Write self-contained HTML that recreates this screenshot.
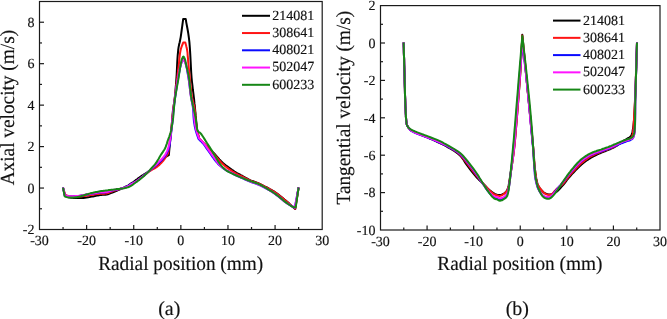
<!DOCTYPE html>
<html><head><meta charset="utf-8"><style>
html,body{margin:0;padding:0;background:#fff;}
svg{display:block;font-family:"Liberation Serif", serif;will-change:transform;text-rendering:geometricPrecision;}
text{fill:#111;stroke:#111;stroke-width:0.15px;}
</style></head><body>
<svg width="667" height="319" viewBox="0 0 667 319">
<rect x="39.5" y="1.5" width="282.7" height="228.0" fill="none" stroke="#1a1a1a" stroke-width="1.2"/>
<text x="39.50" y="245.30" font-size="14" text-anchor="middle" >-30</text>
<line x1="63.06" y1="229.50" x2="63.06" y2="227.00" stroke="#1a1a1a" stroke-width="1.2"/>
<line x1="86.62" y1="229.50" x2="86.62" y2="225.00" stroke="#1a1a1a" stroke-width="1.2"/>
<text x="86.62" y="245.30" font-size="14" text-anchor="middle" >-20</text>
<line x1="110.17" y1="229.50" x2="110.17" y2="227.00" stroke="#1a1a1a" stroke-width="1.2"/>
<line x1="133.73" y1="229.50" x2="133.73" y2="225.00" stroke="#1a1a1a" stroke-width="1.2"/>
<text x="133.73" y="245.30" font-size="14" text-anchor="middle" >-10</text>
<line x1="157.29" y1="229.50" x2="157.29" y2="227.00" stroke="#1a1a1a" stroke-width="1.2"/>
<line x1="180.85" y1="229.50" x2="180.85" y2="225.00" stroke="#1a1a1a" stroke-width="1.2"/>
<text x="180.85" y="245.30" font-size="14" text-anchor="middle" >0</text>
<line x1="204.41" y1="229.50" x2="204.41" y2="227.00" stroke="#1a1a1a" stroke-width="1.2"/>
<line x1="227.97" y1="229.50" x2="227.97" y2="225.00" stroke="#1a1a1a" stroke-width="1.2"/>
<text x="227.97" y="245.30" font-size="14" text-anchor="middle" >10</text>
<line x1="251.53" y1="229.50" x2="251.53" y2="227.00" stroke="#1a1a1a" stroke-width="1.2"/>
<line x1="275.08" y1="229.50" x2="275.08" y2="225.00" stroke="#1a1a1a" stroke-width="1.2"/>
<text x="275.08" y="245.30" font-size="14" text-anchor="middle" >20</text>
<line x1="298.64" y1="229.50" x2="298.64" y2="227.00" stroke="#1a1a1a" stroke-width="1.2"/>
<text x="322.20" y="245.30" font-size="14" text-anchor="middle" >30</text>
<text x="34.50" y="234.20" font-size="14" text-anchor="end" >-2</text>
<line x1="39.50" y1="208.77" x2="42.00" y2="208.77" stroke="#1a1a1a" stroke-width="1.2"/>
<line x1="39.50" y1="188.05" x2="44.00" y2="188.05" stroke="#1a1a1a" stroke-width="1.2"/>
<text x="34.50" y="192.75" font-size="14" text-anchor="end" >0</text>
<line x1="39.50" y1="167.32" x2="42.00" y2="167.32" stroke="#1a1a1a" stroke-width="1.2"/>
<line x1="39.50" y1="146.59" x2="44.00" y2="146.59" stroke="#1a1a1a" stroke-width="1.2"/>
<text x="34.50" y="151.29" font-size="14" text-anchor="end" >2</text>
<line x1="39.50" y1="125.86" x2="42.00" y2="125.86" stroke="#1a1a1a" stroke-width="1.2"/>
<line x1="39.50" y1="105.14" x2="44.00" y2="105.14" stroke="#1a1a1a" stroke-width="1.2"/>
<text x="34.50" y="109.84" font-size="14" text-anchor="end" >4</text>
<line x1="39.50" y1="84.41" x2="42.00" y2="84.41" stroke="#1a1a1a" stroke-width="1.2"/>
<line x1="39.50" y1="63.68" x2="44.00" y2="63.68" stroke="#1a1a1a" stroke-width="1.2"/>
<text x="34.50" y="68.38" font-size="14" text-anchor="end" >6</text>
<line x1="39.50" y1="42.95" x2="42.00" y2="42.95" stroke="#1a1a1a" stroke-width="1.2"/>
<line x1="39.50" y1="22.23" x2="44.00" y2="22.23" stroke="#1a1a1a" stroke-width="1.2"/>
<text x="34.50" y="26.93" font-size="14" text-anchor="end" >8</text>
<rect x="380.5" y="5.6" width="279.5" height="224.4" fill="none" stroke="#1a1a1a" stroke-width="1.2"/>
<text x="380.50" y="245.80" font-size="14" text-anchor="middle" >-30</text>
<line x1="403.79" y1="230.00" x2="403.79" y2="227.50" stroke="#1a1a1a" stroke-width="1.2"/>
<line x1="427.08" y1="230.00" x2="427.08" y2="225.50" stroke="#1a1a1a" stroke-width="1.2"/>
<text x="427.08" y="245.80" font-size="14" text-anchor="middle" >-20</text>
<line x1="450.38" y1="230.00" x2="450.38" y2="227.50" stroke="#1a1a1a" stroke-width="1.2"/>
<line x1="473.67" y1="230.00" x2="473.67" y2="225.50" stroke="#1a1a1a" stroke-width="1.2"/>
<text x="473.67" y="245.80" font-size="14" text-anchor="middle" >-10</text>
<line x1="496.96" y1="230.00" x2="496.96" y2="227.50" stroke="#1a1a1a" stroke-width="1.2"/>
<line x1="520.25" y1="230.00" x2="520.25" y2="225.50" stroke="#1a1a1a" stroke-width="1.2"/>
<text x="520.25" y="245.80" font-size="14" text-anchor="middle" >0</text>
<line x1="543.54" y1="230.00" x2="543.54" y2="227.50" stroke="#1a1a1a" stroke-width="1.2"/>
<line x1="566.83" y1="230.00" x2="566.83" y2="225.50" stroke="#1a1a1a" stroke-width="1.2"/>
<text x="566.83" y="245.80" font-size="14" text-anchor="middle" >10</text>
<line x1="590.12" y1="230.00" x2="590.12" y2="227.50" stroke="#1a1a1a" stroke-width="1.2"/>
<line x1="613.42" y1="230.00" x2="613.42" y2="225.50" stroke="#1a1a1a" stroke-width="1.2"/>
<text x="613.42" y="245.80" font-size="14" text-anchor="middle" >20</text>
<line x1="636.71" y1="230.00" x2="636.71" y2="227.50" stroke="#1a1a1a" stroke-width="1.2"/>
<text x="660.00" y="245.80" font-size="14" text-anchor="middle" >30</text>
<text x="375.50" y="234.70" font-size="14" text-anchor="end" >-10</text>
<line x1="380.50" y1="211.30" x2="383.00" y2="211.30" stroke="#1a1a1a" stroke-width="1.2"/>
<line x1="380.50" y1="192.60" x2="385.00" y2="192.60" stroke="#1a1a1a" stroke-width="1.2"/>
<text x="375.50" y="197.30" font-size="14" text-anchor="end" >-8</text>
<line x1="380.50" y1="173.90" x2="383.00" y2="173.90" stroke="#1a1a1a" stroke-width="1.2"/>
<line x1="380.50" y1="155.20" x2="385.00" y2="155.20" stroke="#1a1a1a" stroke-width="1.2"/>
<text x="375.50" y="159.90" font-size="14" text-anchor="end" >-6</text>
<line x1="380.50" y1="136.50" x2="383.00" y2="136.50" stroke="#1a1a1a" stroke-width="1.2"/>
<line x1="380.50" y1="117.80" x2="385.00" y2="117.80" stroke="#1a1a1a" stroke-width="1.2"/>
<text x="375.50" y="122.50" font-size="14" text-anchor="end" >-4</text>
<line x1="380.50" y1="99.10" x2="383.00" y2="99.10" stroke="#1a1a1a" stroke-width="1.2"/>
<line x1="380.50" y1="80.40" x2="385.00" y2="80.40" stroke="#1a1a1a" stroke-width="1.2"/>
<text x="375.50" y="85.10" font-size="14" text-anchor="end" >-2</text>
<line x1="380.50" y1="61.70" x2="383.00" y2="61.70" stroke="#1a1a1a" stroke-width="1.2"/>
<line x1="380.50" y1="43.00" x2="385.00" y2="43.00" stroke="#1a1a1a" stroke-width="1.2"/>
<text x="375.50" y="47.70" font-size="14" text-anchor="end" >0</text>
<line x1="380.50" y1="24.30" x2="383.00" y2="24.30" stroke="#1a1a1a" stroke-width="1.2"/>
<text x="375.50" y="10.30" font-size="14" text-anchor="end" >2</text>
<text transform="translate(180.7,269.5) scale(0.965,1)" font-size="20" text-anchor="middle">Radial position (mm)</text>
<text transform="translate(519.9,269.5) scale(0.965,1)" font-size="20" text-anchor="middle">Radial position (mm)</text>
<text transform="translate(13.7,107.65) rotate(-90) scale(0.965,1)" font-size="20" text-anchor="middle">Axial velocity (m/s)</text>
<text transform="translate(349.6,107.7) rotate(-90) scale(0.965,1)" font-size="20" text-anchor="middle">Tangential velocity (m/s)</text>
<text x="169.30" y="314.50" font-size="20" text-anchor="middle" >(a)</text>
<text x="517.30" y="314.50" font-size="20" text-anchor="middle" >(b)</text>
<line x1="242.00" y1="15.80" x2="270.00" y2="15.80" stroke="#000000" stroke-width="2"/>
<text x="272.30" y="19.70" font-size="14" text-anchor="start" >214081</text>
<line x1="242.00" y1="33.05" x2="270.00" y2="33.05" stroke="#ff1414" stroke-width="2"/>
<text x="272.30" y="36.95" font-size="14" text-anchor="start" >308641</text>
<line x1="242.00" y1="50.30" x2="270.00" y2="50.30" stroke="#0a0aff" stroke-width="2"/>
<text x="272.30" y="54.20" font-size="14" text-anchor="start" >408021</text>
<line x1="242.00" y1="67.55" x2="270.00" y2="67.55" stroke="#ff14ff" stroke-width="2"/>
<text x="272.30" y="71.45" font-size="14" text-anchor="start" >502047</text>
<line x1="242.00" y1="84.80" x2="270.00" y2="84.80" stroke="#168716" stroke-width="2"/>
<text x="272.30" y="88.70" font-size="14" text-anchor="start" >600233</text>
<path d="M63.0,187.6 L64.9,196.0 L65.9,196.3 L66.9,196.6 L67.9,197.0 L68.9,197.3 L70.0,197.5 L71.2,197.7 L72.4,197.8 L73.6,197.9 L74.8,198.0 L76.0,198.0 L77.2,198.0 L78.4,198.1 L79.6,198.1 L80.8,198.1 L82.0,198.0 L83.5,197.9 L85.0,197.7 L86.5,197.5 L88.1,197.2 L89.5,197.0 L90.7,196.8 L91.8,196.6 L92.9,196.4 L93.9,196.2 L95.0,196.0 L96.0,195.8 L97.0,195.6 L98.0,195.4 L99.0,195.2 L100.0,195.0 L101.3,194.9 L102.6,194.8 L104.0,194.8 L105.4,194.7 L106.7,194.5 L107.9,194.2 L109.1,193.8 L110.2,193.4 L111.4,192.9 L112.5,192.5 L113.6,192.1 L114.8,191.6 L115.9,191.1 L117.0,190.7 L118.0,190.2 L118.8,189.8 L119.6,189.5 L120.4,189.1 L121.2,188.7 L122.0,188.3 L123.1,187.8 L124.3,187.3 L125.5,186.7 L126.8,186.2 L128.0,185.5 L129.4,184.6 L130.8,183.7 L132.3,182.7 L133.7,181.7 L135.0,180.7 L136.1,179.9 L137.1,179.2 L138.0,178.4 L139.0,177.7 L140.0,177.0 L141.0,176.3 L142.0,175.7 L143.0,175.1 L144.0,174.4 L145.0,173.8 L146.0,173.2 L147.0,172.5 L147.9,171.9 L148.9,171.2 L150.0,170.5 L151.4,169.5 L153.0,168.4 L154.6,167.3 L156.1,166.1 L157.6,164.9 L159.0,163.5 L160.3,162.0 L161.6,160.5 L162.9,159.1 L164.2,157.9 L165.1,157.2 L166.1,156.6 L167.0,156.1 L167.9,155.6 L168.8,155.1 L169.1,152.1 L169.4,149.0 L169.7,146.0 L170.0,143.0 L170.3,140.0 L170.6,137.2 L170.8,134.4 L171.1,131.6 L171.3,128.9 L171.6,126.0 L171.9,122.8 L172.1,119.5 L172.4,116.2 L172.7,113.0 L173.0,110.0 L173.3,107.9 L173.6,106.0 L173.9,104.1 L174.2,102.2 L174.5,100.0 L174.9,96.5 L175.3,92.7 L175.6,88.6 L176.0,84.4 L176.3,80.0 L176.7,74.2 L177.0,67.8 L177.3,61.4 L177.7,55.3 L178.2,50.0 L178.6,47.1 L179.1,44.6 L179.7,42.2 L180.2,39.7 L180.7,37.1 L181.2,33.7 L181.7,30.0 L182.2,26.3 L182.7,22.6 L183.2,18.9 L185.7,18.9 L186.3,22.6 L187.0,26.3 L187.7,30.0 L188.3,33.7 L188.8,37.1 L189.1,39.7 L189.4,42.2 L189.6,44.6 L189.8,47.1 L190.0,50.0 L190.3,55.0 L190.6,60.7 L190.9,66.7 L191.2,72.6 L191.6,78.0 L192.0,82.1 L192.5,86.1 L192.9,90.0 L193.4,93.6 L193.8,97.0 L194.1,99.4 L194.3,101.6 L194.5,103.7 L194.8,105.8 L195.0,108.0 L195.2,110.6 L195.5,113.2 L195.7,115.9 L196.0,118.5 L196.2,121.0 L196.4,122.9 L196.6,124.7 L196.7,126.5 L196.9,128.2 L197.2,130.0 L197.5,131.8 L197.9,133.6 L198.4,135.3 L198.8,137.1 L199.2,138.9 L200.4,140.0 L201.5,141.2 L202.7,142.3 L203.9,143.4 L205.0,144.5 L206.0,145.4 L207.1,146.3 L208.1,147.2 L209.1,148.1 L210.0,149.0 L210.8,149.8 L211.6,150.7 L212.4,151.5 L213.1,152.4 L214.0,153.3 L215.3,154.7 L216.6,156.3 L218.1,157.9 L219.4,159.4 L220.7,160.8 L221.6,161.7 L222.4,162.5 L223.2,163.3 L224.0,163.9 L224.6,164.5 L224.9,164.7 L225.2,164.9 L225.4,165.1 L225.7,165.3 L226.0,165.5 L226.8,166.1 L227.9,166.9 L229.0,167.7 L230.2,168.5 L231.3,169.3 L232.3,170.0 L233.4,170.7 L234.4,171.5 L235.4,172.1 L236.5,172.8 L237.6,173.4 L238.6,174.0 L239.7,174.5 L240.8,175.1 L242.0,175.7 L243.4,176.5 L244.8,177.3 L246.3,178.2 L247.8,179.0 L249.4,179.8 L251.2,180.6 L253.1,181.3 L255.0,182.0 L256.9,182.7 L258.8,183.5 L260.7,184.4 L262.6,185.3 L264.5,186.3 L266.4,187.2 L268.2,188.2 L269.8,189.1 L271.3,189.9 L272.9,190.8 L274.4,191.7 L276.0,192.8 L278.1,194.3 L280.2,196.0 L282.4,197.8 L284.5,199.6 L286.6,201.3 L288.4,202.8 L290.1,204.4 L291.8,205.9 L293.5,207.5 L295.2,209.0 L298.6,187.5" fill="none" stroke="#000000" stroke-width="2.0" stroke-linejoin="round" stroke-linecap="butt"/>
<path d="M63.0,187.6 L65.2,194.6 L65.7,194.8 L66.3,195.1 L66.8,195.4 L67.4,195.6 L68.0,195.8 L69.0,196.0 L70.2,196.2 L71.5,196.3 L72.8,196.4 L74.0,196.5 L75.2,196.6 L76.4,196.6 L77.6,196.6 L78.8,196.6 L80.0,196.5 L81.2,196.4 L82.4,196.3 L83.6,196.1 L84.8,196.0 L86.0,195.8 L87.4,195.6 L88.8,195.4 L90.2,195.1 L91.6,194.9 L93.0,194.7 L94.4,194.5 L95.8,194.3 L97.2,194.1 L98.6,193.9 L100.0,193.8 L101.4,193.7 L102.7,193.7 L104.1,193.7 L105.4,193.6 L106.7,193.4 L107.9,193.1 L109.1,192.7 L110.2,192.2 L111.4,191.7 L112.5,191.3 L113.6,190.9 L114.7,190.5 L115.9,190.2 L117.0,189.8 L118.0,189.5 L118.8,189.2 L119.6,189.0 L120.4,188.8 L121.2,188.6 L122.0,188.3 L123.1,188.0 L124.3,187.6 L125.5,187.2 L126.8,186.8 L128.0,186.3 L129.4,185.6 L130.8,184.7 L132.3,183.8 L133.7,182.9 L135.0,182.0 L136.1,181.3 L137.1,180.6 L138.0,179.9 L139.0,179.2 L140.0,178.5 L141.0,177.8 L142.0,177.0 L143.0,176.3 L144.0,175.5 L145.0,174.8 L146.0,174.0 L146.9,173.3 L147.9,172.5 L148.9,171.8 L150.0,171.0 L151.4,170.1 L153.0,169.2 L154.6,168.3 L156.1,167.3 L157.6,166.3 L159.0,165.2 L160.3,163.9 L161.5,162.7 L162.7,161.3 L163.8,160.0 L164.8,158.7 L165.7,157.3 L166.5,156.0 L167.3,154.6 L168.2,153.2 L168.6,150.6 L168.9,147.9 L169.3,145.3 L169.7,142.7 L170.0,140.0 L170.3,137.3 L170.7,134.5 L171.0,131.7 L171.3,128.9 L171.6,126.0 L172.0,122.5 L172.3,118.8 L172.7,115.1 L173.1,111.4 L173.5,108.0 L173.8,105.3 L174.2,102.7 L174.5,100.2 L174.9,97.6 L175.2,95.0 L175.6,92.1 L175.9,89.1 L176.3,86.1 L176.6,83.0 L177.0,80.0 L177.4,77.0 L177.7,74.0 L178.1,71.0 L178.4,68.0 L178.8,65.0 L179.1,61.9 L179.4,58.7 L179.7,55.6 L180.1,52.7 L180.6,50.0 L181.1,48.3 L181.6,46.8 L182.1,45.4 L182.7,44.0 L183.2,42.5 L185.3,42.5 L185.7,44.0 L186.1,45.4 L186.4,46.8 L186.8,48.3 L187.1,50.0 L187.5,52.7 L187.7,55.6 L188.0,58.7 L188.2,61.9 L188.5,65.0 L188.8,68.0 L189.1,71.0 L189.4,73.9 L189.7,76.9 L190.0,80.0 L190.4,83.4 L190.7,86.9 L191.1,90.4 L191.5,93.8 L192.0,97.0 L192.5,99.3 L193.0,101.5 L193.5,103.6 L194.1,105.8 L194.5,108.0 L194.9,110.6 L195.2,113.2 L195.4,115.9 L195.6,118.5 L195.9,121.0 L196.1,122.9 L196.3,124.7 L196.5,126.5 L196.7,128.3 L197.0,130.0 L197.3,131.7 L197.7,133.4 L198.2,135.0 L198.6,136.6 L199.0,138.3 L200.2,139.5 L201.4,140.7 L202.6,141.9 L203.8,143.1 L205.0,144.3 L206.0,145.4 L207.1,146.4 L208.1,147.5 L209.0,148.5 L210.0,149.5 L210.8,150.4 L211.6,151.3 L212.4,152.1 L213.1,153.0 L214.0,154.0 L215.2,155.5 L216.6,157.1 L218.0,158.9 L219.4,160.5 L220.7,162.0 L221.8,163.1 L222.8,164.1 L223.9,165.0 L224.9,165.9 L226.0,166.8 L227.0,167.6 L228.1,168.4 L229.2,169.2 L230.2,169.9 L231.3,170.6 L232.3,171.3 L233.4,171.9 L234.4,172.6 L235.4,173.2 L236.5,173.8 L237.6,174.4 L238.6,174.9 L239.7,175.4 L240.8,175.9 L242.0,176.5 L243.4,177.2 L244.8,178.0 L246.3,178.7 L247.8,179.5 L249.4,180.2 L251.2,180.9 L253.1,181.6 L255.0,182.3 L256.9,182.9 L258.8,183.7 L260.7,184.5 L262.6,185.4 L264.5,186.4 L266.4,187.3 L268.2,188.3 L269.8,189.2 L271.3,190.1 L272.9,191.0 L274.4,191.9 L276.0,193.0 L278.1,194.5 L280.2,196.2 L282.4,198.0 L284.5,199.8 L286.6,201.5 L288.4,203.0 L290.1,204.5 L291.8,205.9 L293.5,207.3 L295.2,208.8 L298.6,187.5" fill="none" stroke="#ff1414" stroke-width="2.0" stroke-linejoin="round" stroke-linecap="butt"/>
<path d="M63.0,187.6 L64.9,195.5 L65.5,195.7 L66.1,195.9 L66.7,196.0 L67.3,196.2 L68.0,196.3 L69.1,196.4 L70.3,196.4 L71.5,196.4 L72.8,196.4 L74.0,196.3 L75.2,196.2 L76.4,196.2 L77.6,196.1 L78.8,195.9 L80.0,195.8 L81.2,195.6 L82.4,195.4 L83.6,195.2 L84.8,195.0 L86.0,194.8 L87.4,194.6 L88.8,194.3 L90.2,194.1 L91.6,193.8 L93.0,193.6 L94.4,193.4 L95.8,193.2 L97.2,192.9 L98.6,192.8 L100.0,192.6 L101.4,192.5 L102.7,192.5 L104.1,192.4 L105.4,192.4 L106.7,192.2 L107.9,191.9 L109.1,191.6 L110.2,191.2 L111.4,190.8 L112.5,190.5 L113.6,190.2 L114.7,190.0 L115.9,189.8 L117.0,189.5 L118.0,189.3 L118.8,189.1 L119.6,188.9 L120.4,188.8 L121.2,188.5 L122.0,188.3 L123.2,187.9 L124.4,187.5 L125.7,187.0 L126.9,186.5 L128.0,186.0 L128.7,185.6 L129.2,185.2 L129.8,184.9 L130.3,184.5 L130.9,184.1 L131.7,183.7 L132.5,183.3 L133.3,182.9 L134.2,182.5 L135.0,182.0 L136.0,181.4 L137.0,180.7 L138.0,180.0 L139.0,179.3 L140.0,178.6 L141.0,177.8 L142.0,177.0 L143.0,176.2 L144.0,175.4 L145.0,174.6 L146.0,173.8 L147.0,172.9 L147.9,172.1 L148.9,171.2 L150.0,170.3 L151.4,169.1 L152.9,167.9 L154.5,166.7 L156.1,165.3 L157.6,164.0 L159.2,162.6 L160.8,161.1 L162.3,159.5 L163.7,157.9 L165.0,156.3 L166.0,154.7 L166.9,153.1 L167.7,151.5 L168.4,149.8 L169.0,148.0 L169.5,146.1 L169.8,144.1 L170.0,142.1 L170.3,140.1 L170.5,138.0 L170.8,135.7 L171.1,133.4 L171.4,131.0 L171.7,128.6 L172.0,126.0 L172.4,122.6 L172.7,118.9 L173.1,115.2 L173.4,111.5 L173.8,108.0 L174.1,105.3 L174.4,102.7 L174.8,100.2 L175.1,97.6 L175.5,95.0 L175.9,92.1 L176.4,89.1 L176.8,86.0 L177.3,83.0 L177.8,80.0 L178.4,76.9 L179.0,73.6 L179.6,70.4 L180.2,67.4 L180.8,65.0 L181.1,63.9 L181.4,62.9 L181.8,62.0 L182.1,61.2 L182.4,60.5 L182.6,60.0 L182.8,59.6 L183.0,59.2 L183.2,58.9 L183.4,58.8 L183.6,58.9 L183.8,59.2 L184.0,59.6 L184.2,60.0 L184.4,60.5 L184.7,61.2 L185.0,62.0 L185.4,62.9 L185.7,63.9 L186.0,65.0 L186.6,67.4 L187.2,70.3 L187.7,73.5 L188.3,76.8 L188.8,80.0 L189.3,83.4 L189.7,86.9 L190.1,90.4 L190.6,93.8 L191.0,97.0 L191.4,99.3 L191.8,101.5 L192.3,103.6 L192.7,105.8 L193.0,108.0 L193.2,110.6 L193.4,113.2 L193.5,115.9 L193.7,118.5 L193.9,121.0 L194.2,122.9 L194.5,124.7 L194.8,126.5 L195.2,128.2 L195.6,130.0 L196.1,131.8 L196.7,133.6 L197.3,135.3 L197.9,137.1 L198.5,138.9 L199.4,139.8 L200.3,140.7 L201.3,141.5 L202.2,142.5 L203.1,143.5 L204.2,144.9 L205.3,146.4 L206.4,148.1 L207.5,149.7 L208.6,151.2 L209.5,152.5 L210.4,153.8 L211.2,155.0 L212.1,156.3 L213.0,157.5 L214.0,158.9 L215.1,160.3 L216.2,161.7 L217.3,162.9 L218.2,164.0 L218.7,164.5 L219.2,165.0 L219.7,165.4 L220.1,165.8 L220.7,166.3 L221.6,167.0 L222.7,167.9 L223.8,168.7 L224.9,169.5 L226.0,170.2 L227.0,170.8 L228.1,171.3 L229.2,171.9 L230.2,172.4 L231.3,172.9 L232.3,173.4 L233.4,174.0 L234.4,174.5 L235.4,175.1 L236.5,175.6 L237.6,176.1 L238.6,176.6 L239.7,177.0 L240.8,177.5 L242.0,178.0 L243.4,178.6 L244.8,179.3 L246.3,180.0 L247.8,180.6 L249.4,181.3 L251.2,182.0 L253.1,182.7 L255.0,183.3 L256.9,184.0 L258.8,184.8 L260.7,185.7 L262.6,186.6 L264.5,187.6 L266.4,188.6 L268.2,189.6 L269.8,190.5 L271.3,191.5 L272.9,192.4 L274.4,193.5 L276.0,194.6 L278.1,196.2 L280.2,197.9 L282.4,199.7 L284.5,201.5 L286.6,203.0 L288.3,204.1 L289.9,205.1 L291.5,206.0 L293.2,206.9 L294.8,207.8 L298.6,187.5" fill="none" stroke="#0a0aff" stroke-width="2.0" stroke-linejoin="round" stroke-linecap="butt"/>
<path d="M63.0,187.6 L64.9,195.3 L65.5,195.5 L66.1,195.6 L66.7,195.8 L67.3,196.0 L68.0,196.1 L69.1,196.2 L70.3,196.3 L71.5,196.3 L72.8,196.2 L74.0,196.2 L75.2,196.1 L76.4,196.0 L77.6,195.9 L78.8,195.8 L80.0,195.6 L81.2,195.4 L82.4,195.2 L83.6,195.0 L84.8,194.8 L86.0,194.6 L87.4,194.4 L88.8,194.1 L90.2,193.9 L91.6,193.6 L93.0,193.4 L94.4,193.2 L95.8,192.9 L97.2,192.7 L98.6,192.5 L100.0,192.3 L101.4,192.2 L102.7,192.2 L104.1,192.2 L105.4,192.1 L106.7,192.0 L107.9,191.7 L109.1,191.4 L110.2,191.0 L111.4,190.6 L112.5,190.3 L113.6,190.0 L114.7,189.8 L115.9,189.6 L117.0,189.4 L118.0,189.2 L118.8,189.0 L119.6,188.9 L120.4,188.7 L121.2,188.5 L122.0,188.3 L123.2,188.0 L124.4,187.6 L125.7,187.1 L126.9,186.7 L128.0,186.2 L128.7,185.8 L129.2,185.5 L129.8,185.1 L130.3,184.7 L130.9,184.3 L131.7,183.9 L132.5,183.5 L133.3,183.1 L134.2,182.7 L135.0,182.2 L136.0,181.6 L137.0,180.9 L138.0,180.2 L139.0,179.4 L140.0,178.7 L141.0,177.9 L142.0,177.1 L143.0,176.3 L144.0,175.5 L145.0,174.7 L146.0,173.8 L147.0,173.0 L147.9,172.1 L148.9,171.2 L150.0,170.2 L151.4,168.9 L152.9,167.6 L154.5,166.1 L156.1,164.7 L157.6,163.2 L159.2,161.6 L160.8,160.0 L162.3,158.4 L163.8,156.7 L165.0,155.0 L165.9,153.5 L166.7,151.9 L167.4,150.3 L168.0,148.7 L168.5,147.0 L169.0,145.3 L169.4,143.5 L169.7,141.7 L170.0,139.9 L170.3,138.0 L170.6,135.8 L170.9,133.4 L171.2,131.1 L171.5,128.6 L171.8,126.0 L172.2,122.6 L172.5,118.9 L172.9,115.2 L173.2,111.5 L173.6,108.0 L173.9,105.3 L174.2,102.7 L174.6,100.2 L174.9,97.6 L175.3,95.0 L175.7,92.1 L176.2,89.1 L176.6,86.0 L177.1,83.0 L177.6,80.0 L178.1,76.8 L178.7,73.5 L179.3,70.3 L180.0,67.4 L180.6,65.0 L181.0,64.0 L181.3,63.1 L181.7,62.3 L182.1,61.6 L182.4,61.0 L182.6,60.6 L182.8,60.1 L183.0,59.8 L183.2,59.5 L183.4,59.4 L183.6,59.5 L183.8,59.8 L184.0,60.1 L184.2,60.6 L184.4,61.0 L184.7,61.6 L185.1,62.3 L185.5,63.1 L185.9,64.0 L186.2,65.0 L186.8,67.4 L187.4,70.2 L187.9,73.5 L188.4,76.8 L188.9,80.0 L189.4,83.4 L189.8,86.9 L190.1,90.4 L190.5,93.8 L191.0,97.0 L191.5,99.3 L192.0,101.5 L192.5,103.6 L193.0,105.8 L193.4,108.0 L193.7,110.6 L193.9,113.2 L194.1,115.9 L194.3,118.5 L194.6,121.0 L194.9,122.9 L195.1,124.8 L195.5,126.5 L195.8,128.3 L196.2,130.0 L196.7,131.6 L197.2,133.2 L197.7,134.8 L198.3,136.4 L198.8,138.0 L199.7,139.0 L200.7,139.9 L201.6,140.9 L202.6,141.9 L203.5,143.0 L204.6,144.4 L205.7,145.9 L206.8,147.5 L207.9,149.1 L209.0,150.6 L209.9,151.9 L210.8,153.2 L211.7,154.5 L212.6,155.7 L213.5,157.0 L214.5,158.4 L215.6,159.9 L216.6,161.4 L217.6,162.7 L218.5,163.8 L219.0,164.3 L219.4,164.8 L219.8,165.2 L220.2,165.6 L220.7,166.0 L221.6,166.7 L222.6,167.5 L223.7,168.4 L224.9,169.2 L226.0,169.9 L227.0,170.5 L228.1,171.1 L229.2,171.6 L230.2,172.2 L231.3,172.7 L232.3,173.2 L233.4,173.8 L234.4,174.3 L235.4,174.9 L236.5,175.4 L237.6,175.9 L238.6,176.4 L239.7,176.8 L240.8,177.3 L242.0,177.8 L243.4,178.4 L244.8,179.1 L246.3,179.8 L247.8,180.4 L249.4,181.1 L251.2,181.8 L253.1,182.5 L255.0,183.1 L256.9,183.8 L258.8,184.6 L260.7,185.5 L262.6,186.4 L264.5,187.4 L266.4,188.5 L268.2,189.5 L269.8,190.4 L271.3,191.4 L272.9,192.3 L274.4,193.4 L276.0,194.5 L278.1,196.1 L280.2,197.9 L282.4,199.7 L284.5,201.5 L286.6,203.0 L288.3,204.1 L289.9,205.0 L291.5,205.9 L293.2,206.7 L294.8,207.6 L298.6,187.5" fill="none" stroke="#ff14ff" stroke-width="2.0" stroke-linejoin="round" stroke-linecap="butt"/>
<path d="M63.0,187.6 L64.7,196.3 L65.2,196.5 L65.8,196.7 L66.3,196.9 L66.9,197.1 L67.5,197.3 L68.3,197.4 L69.2,197.5 L70.1,197.6 L71.1,197.6 L72.0,197.6 L73.0,197.6 L74.1,197.5 L75.2,197.3 L76.3,197.2 L77.4,197.0 L78.5,196.8 L79.6,196.5 L80.7,196.2 L81.9,195.8 L83.0,195.5 L84.3,195.1 L85.6,194.7 L86.9,194.3 L88.2,194.0 L89.5,193.6 L90.6,193.3 L91.7,193.0 L92.8,192.8 L93.9,192.5 L95.0,192.3 L96.0,192.1 L97.0,191.9 L98.0,191.7 L99.0,191.5 L100.0,191.3 L101.3,191.1 L102.6,190.9 L104.0,190.7 L105.4,190.6 L106.7,190.4 L107.9,190.3 L109.1,190.1 L110.2,190.0 L111.4,189.8 L112.5,189.7 L113.6,189.6 L114.7,189.4 L115.8,189.3 L116.9,189.1 L118.0,189.0 L119.2,188.9 L120.4,188.7 L121.7,188.6 L122.9,188.4 L124.0,188.2 L124.9,188.0 L125.7,187.8 L126.5,187.7 L127.3,187.4 L128.0,187.2 L128.6,187.0 L129.2,186.8 L129.7,186.5 L130.3,186.2 L130.9,185.9 L131.7,185.4 L132.5,184.9 L133.3,184.3 L134.1,183.6 L135.0,183.0 L136.0,182.3 L137.0,181.6 L138.0,180.8 L139.0,180.1 L140.0,179.3 L141.0,178.5 L142.0,177.6 L143.0,176.8 L144.0,175.9 L145.0,175.0 L146.0,174.1 L147.0,173.1 L148.0,172.1 L149.0,171.1 L150.0,170.0 L151.3,168.5 L152.7,166.9 L154.1,165.3 L155.5,163.6 L156.7,161.9 L157.7,160.3 L158.7,158.7 L159.6,157.1 L160.5,155.6 L161.4,154.1 L162.2,152.9 L162.9,151.9 L163.6,150.8 L164.3,149.7 L165.0,148.5 L165.7,146.9 L166.3,145.2 L166.9,143.5 L167.4,141.7 L168.0,140.0 L168.5,138.5 L169.1,137.0 L169.6,135.6 L170.1,134.1 L170.6,132.5 L171.1,130.5 L171.5,128.3 L171.9,126.1 L172.3,123.7 L172.7,121.2 L173.2,117.4 L173.5,113.2 L173.9,108.8 L174.3,104.3 L174.8,100.0 L175.4,95.9 L176.1,91.8 L176.8,87.8 L177.5,83.8 L178.2,80.0 L178.7,76.8 L179.2,73.6 L179.7,70.5 L180.1,67.6 L180.6,65.0 L180.9,63.4 L181.2,62.0 L181.5,60.6 L181.8,59.4 L182.2,58.4 L182.4,57.9 L182.7,57.4 L182.9,57.0 L183.2,56.7 L183.4,56.6 L183.6,56.7 L183.9,57.0 L184.1,57.4 L184.4,57.9 L184.6,58.4 L185.0,59.4 L185.3,60.6 L185.6,62.0 L185.9,63.5 L186.2,65.0 L186.7,67.3 L187.3,69.8 L187.9,72.4 L188.5,75.2 L189.0,78.0 L189.5,81.6 L189.9,85.6 L190.3,89.6 L190.7,93.5 L191.2,97.0 L191.6,99.4 L192.1,101.6 L192.6,103.7 L193.0,105.8 L193.5,108.0 L194.0,110.2 L194.5,112.5 L195.0,114.7 L195.4,116.9 L195.8,119.0 L196.0,120.7 L196.2,122.4 L196.4,124.1 L196.6,125.6 L196.8,127.0 L197.0,127.9 L197.1,128.8 L197.2,129.6 L197.5,130.3 L197.8,131.0 L198.3,131.6 L198.8,132.0 L199.4,132.4 L200.1,132.9 L200.7,133.5 L201.7,134.7 L202.7,136.2 L203.7,137.8 L204.7,139.4 L205.7,141.0 L206.7,142.6 L207.8,144.2 L208.8,145.8 L209.8,147.4 L210.8,149.0 L211.8,150.6 L212.7,152.1 L213.6,153.7 L214.5,155.2 L215.5,156.8 L216.5,158.4 L217.4,160.0 L218.4,161.6 L219.4,163.2 L220.5,164.6 L221.5,165.9 L222.6,167.1 L223.7,168.2 L224.8,169.3 L226.0,170.2 L227.0,170.9 L228.1,171.5 L229.2,172.1 L230.2,172.6 L231.3,173.1 L232.3,173.6 L233.4,174.1 L234.4,174.6 L235.4,175.0 L236.5,175.5 L237.6,176.0 L238.6,176.4 L239.7,176.9 L240.8,177.3 L242.0,177.8 L243.4,178.4 L244.8,179.0 L246.3,179.6 L247.8,180.2 L249.4,180.8 L251.2,181.4 L253.1,182.0 L255.0,182.7 L256.9,183.3 L258.8,184.1 L260.7,185.0 L262.6,186.0 L264.5,187.1 L266.4,188.2 L268.2,189.3 L269.8,190.3 L271.3,191.2 L272.9,192.2 L274.4,193.3 L276.0,194.4 L278.1,196.0 L280.2,197.8 L282.4,199.6 L284.6,201.4 L286.6,202.9 L288.1,204.0 L289.7,205.0 L291.1,206.0 L292.5,206.7 L293.6,207.2 L294.1,207.3 L294.5,207.3 L294.9,207.3 L295.3,207.3 L295.7,207.3 L298.6,187.5" fill="none" stroke="#168716" stroke-width="2.0" stroke-linejoin="round" stroke-linecap="butt"/>
<path d="M403.6,42.5 L403.8,48.0 L403.9,53.4 L404.1,58.9 L404.2,64.4 L404.4,70.0 L404.6,76.1 L404.7,82.4 L404.9,88.8 L405.0,94.7 L405.2,100.0 L405.3,103.2 L405.4,106.3 L405.6,109.1 L405.7,111.7 L405.8,114.0 L405.9,115.4 L405.9,116.6 L406.0,117.8 L406.1,118.9 L406.2,120.0 L406.3,121.0 L406.4,121.9 L406.5,122.8 L406.6,123.7 L406.8,124.5 L407.0,125.1 L407.3,125.7 L407.6,126.3 L407.9,126.9 L408.3,127.4 L408.7,128.0 L409.2,128.5 L409.6,129.0 L410.2,129.5 L410.7,130.0 L411.3,130.4 L411.9,130.8 L412.6,131.1 L413.3,131.4 L414.0,131.8 L415.1,132.3 L416.2,132.8 L417.4,133.3 L418.7,133.9 L420.0,134.4 L421.5,135.0 L423.0,135.6 L424.6,136.2 L426.3,136.9 L428.0,137.6 L430.3,138.6 L432.7,139.7 L435.2,140.9 L437.6,142.0 L440.0,143.2 L442.1,144.2 L444.1,145.2 L446.1,146.2 L448.0,147.3 L450.0,148.4 L452.1,149.7 L454.2,151.0 L456.3,152.4 L458.3,153.9 L460.1,155.5 L461.7,157.3 L463.2,159.3 L464.5,161.4 L465.9,163.6 L467.4,165.7 L469.2,168.1 L471.1,170.6 L473.1,173.1 L475.0,175.4 L476.8,177.5 L478.1,178.9 L479.4,180.2 L480.6,181.3 L481.9,182.5 L483.1,183.7 L484.4,185.0 L485.7,186.3 L486.9,187.6 L488.2,188.9 L489.4,190.0 L490.4,190.8 L491.3,191.5 L492.2,192.2 L493.1,192.9 L494.0,193.4 L494.7,193.8 L495.4,194.1 L496.1,194.5 L496.8,194.7 L497.5,194.9 L498.0,195.0 L498.5,195.1 L499.0,195.1 L499.5,195.1 L500.0,195.1 L500.4,195.0 L500.8,195.0 L501.2,194.9 L501.6,194.7 L502.0,194.6 L502.4,194.4 L502.8,194.2 L503.2,194.0 L503.6,193.8 L504.0,193.5 L504.6,193.0 L505.2,192.5 L505.8,191.9 L506.3,191.3 L506.8,190.6 L507.2,189.9 L507.5,189.3 L507.8,188.6 L508.1,187.8 L508.3,187.0 L508.6,185.9 L508.8,184.7 L509.0,183.5 L509.2,182.3 L509.4,181.0 L509.6,179.7 L509.8,178.4 L510.0,177.1 L510.2,175.7 L510.5,174.0 L511.1,170.1 L511.8,165.5 L512.6,160.3 L513.3,155.1 L514.0,150.0 L514.5,145.2 L515.0,140.5 L515.4,135.7 L515.8,130.6 L516.3,125.0 L517.1,115.2 L518.0,104.0 L518.9,92.2 L519.8,80.6 L520.5,70.0 L520.9,62.5 L521.3,55.4 L521.6,48.5 L522.0,41.7 L522.3,34.8 L523.0,41.7 L523.6,48.5 L524.3,55.4 L525.0,62.5 L525.7,70.0 L526.7,80.6 L527.8,92.1 L529.0,104.0 L530.1,115.2 L531.0,125.0 L531.6,130.7 L532.1,135.9 L532.5,140.8 L533.0,145.4 L533.4,150.0 L533.7,153.9 L534.0,157.6 L534.2,161.3 L534.5,164.7 L534.8,168.0 L535.1,170.4 L535.4,172.8 L535.6,175.0 L536.0,177.1 L536.3,179.0 L536.5,180.1 L536.8,181.2 L537.0,182.2 L537.3,183.1 L537.6,184.0 L537.9,184.8 L538.3,185.7 L538.7,186.4 L539.2,187.2 L539.7,188.0 L540.4,189.0 L541.2,189.9 L542.1,190.9 L543.0,191.8 L543.8,192.5 L544.4,192.9 L544.9,193.3 L545.4,193.5 L546.0,193.8 L546.5,194.0 L547.0,194.1 L547.4,194.2 L547.9,194.3 L548.4,194.4 L548.8,194.4 L549.2,194.4 L549.5,194.4 L549.8,194.5 L550.2,194.4 L550.5,194.4 L550.9,194.3 L551.2,194.2 L551.6,194.1 L552.0,194.0 L552.4,193.8 L553.1,193.5 L553.9,193.2 L554.7,192.9 L555.5,192.4 L556.4,191.9 L557.8,190.8 L559.2,189.3 L560.7,187.7 L562.1,186.1 L563.5,184.5 L564.7,183.1 L565.8,181.7 L566.8,180.2 L567.9,178.9 L569.0,177.5 L570.1,176.3 L571.1,175.1 L572.2,173.9 L573.3,172.8 L574.4,171.6 L575.5,170.4 L576.6,169.3 L577.8,168.1 L578.9,167.0 L580.0,165.9 L581.0,165.0 L582.0,164.1 L583.0,163.3 L584.0,162.5 L585.0,161.7 L586.0,161.0 L587.0,160.3 L588.0,159.6 L589.0,158.9 L590.0,158.3 L591.0,157.7 L592.0,157.1 L593.0,156.6 L594.0,156.0 L595.0,155.5 L596.0,155.0 L597.0,154.5 L598.0,154.1 L599.0,153.6 L600.0,153.2 L601.0,152.8 L602.0,152.4 L603.0,152.0 L604.0,151.6 L605.0,151.2 L606.0,150.8 L607.0,150.4 L608.0,150.0 L609.0,149.6 L610.0,149.2 L611.2,148.7 L612.4,148.1 L613.6,147.5 L614.8,146.9 L616.0,146.2 L617.4,145.3 L618.8,144.2 L620.2,143.1 L621.6,142.1 L622.9,141.2 L623.8,140.6 L624.8,140.1 L625.6,139.6 L626.5,139.1 L627.3,138.6 L628.0,138.2 L628.6,137.9 L629.2,137.6 L629.8,137.2 L630.3,136.8 L630.6,136.4 L630.9,136.1 L631.2,135.7 L631.4,135.3 L631.6,134.8 L631.8,134.2 L632.0,133.6 L632.2,133.0 L632.3,132.3 L632.5,131.5 L632.7,130.4 L632.9,129.3 L633.1,128.0 L633.3,126.6 L633.5,125.0 L633.9,121.2 L634.2,116.7 L634.5,111.5 L634.8,105.9 L635.1,100.0 L635.5,90.0 L635.9,78.7 L636.3,66.6 L636.6,54.4 L637.0,42.5" fill="none" stroke="#000000" stroke-width="2.0" stroke-linejoin="round" stroke-linecap="butt"/>
<path d="M403.6,42.5 L403.8,48.0 L403.9,53.4 L404.1,58.9 L404.2,64.4 L404.4,70.0 L404.6,76.1 L404.7,82.4 L404.9,88.8 L405.0,94.7 L405.2,100.0 L405.3,103.2 L405.4,106.3 L405.6,109.1 L405.7,111.7 L405.8,114.0 L405.9,115.4 L405.9,116.6 L406.0,117.8 L406.1,118.9 L406.2,120.0 L406.3,121.0 L406.4,121.9 L406.5,122.8 L406.6,123.7 L406.8,124.5 L407.0,125.1 L407.3,125.7 L407.6,126.3 L407.9,126.9 L408.3,127.4 L408.7,128.0 L409.2,128.5 L409.6,129.0 L410.2,129.5 L410.7,130.0 L411.3,130.4 L411.9,130.8 L412.6,131.1 L413.3,131.4 L414.0,131.8 L415.1,132.3 L416.2,132.8 L417.4,133.3 L418.7,133.9 L420.0,134.4 L421.5,135.0 L423.0,135.6 L424.6,136.2 L426.3,136.8 L428.0,137.5 L430.3,138.5 L432.7,139.5 L435.2,140.6 L437.6,141.7 L440.0,142.8 L442.1,143.8 L444.1,144.7 L446.1,145.7 L448.0,146.7 L450.0,147.8 L452.1,149.0 L454.2,150.4 L456.3,151.7 L458.3,153.2 L460.1,154.8 L461.7,156.5 L463.2,158.3 L464.5,160.1 L465.9,162.0 L467.4,164.0 L469.2,166.3 L471.2,168.8 L473.1,171.3 L475.0,173.8 L476.8,176.0 L478.1,177.6 L479.4,179.2 L480.6,180.6 L481.8,182.1 L483.1,183.5 L484.4,184.9 L485.6,186.4 L486.9,187.8 L488.2,189.1 L489.4,190.3 L490.4,191.2 L491.3,192.1 L492.2,192.9 L493.1,193.6 L494.0,194.2 L494.6,194.5 L495.3,194.8 L495.9,195.0 L496.5,195.1 L497.0,195.3 L497.4,195.4 L497.7,195.6 L498.1,195.7 L498.4,195.8 L498.8,195.9 L499.2,195.9 L499.6,195.9 L500.0,195.9 L500.4,195.8 L500.8,195.7 L501.2,195.6 L501.7,195.4 L502.1,195.2 L502.5,194.9 L503.0,194.6 L503.7,194.0 L504.6,193.4 L505.4,192.6 L506.2,191.8 L506.8,191.0 L507.2,190.3 L507.6,189.7 L507.9,189.0 L508.1,188.3 L508.4,187.5 L508.7,186.4 L508.9,185.3 L509.1,184.0 L509.3,182.8 L509.5,181.5 L509.7,180.1 L509.9,178.8 L510.1,177.3 L510.3,175.8 L510.6,174.0 L511.2,170.1 L511.9,165.4 L512.6,160.3 L513.4,155.1 L514.0,150.0 L514.5,145.2 L515.0,140.5 L515.4,135.7 L515.8,130.6 L516.3,125.0 L517.1,115.2 L518.0,103.9 L518.9,92.1 L519.8,80.5 L520.5,70.0 L520.9,62.6 L521.3,55.6 L521.6,48.9 L522.0,42.3 L522.3,35.5 L523.0,42.3 L523.6,48.9 L524.3,55.6 L525.0,62.6 L525.7,70.0 L526.7,80.5 L527.8,92.1 L529.0,103.9 L530.1,115.2 L531.0,125.0 L531.6,130.7 L532.1,135.9 L532.5,140.8 L533.0,145.4 L533.4,150.0 L533.7,153.9 L534.0,157.6 L534.2,161.3 L534.5,164.7 L534.8,168.0 L535.1,170.4 L535.4,172.8 L535.7,175.0 L536.0,177.1 L536.3,179.0 L536.5,180.1 L536.7,181.2 L536.9,182.2 L537.1,183.1 L537.4,184.0 L537.8,184.8 L538.2,185.6 L538.6,186.3 L539.2,187.0 L539.7,187.8 L540.4,188.8 L541.3,189.9 L542.1,190.9 L543.0,191.9 L543.8,192.7 L544.4,193.2 L544.9,193.5 L545.5,193.9 L546.0,194.2 L546.5,194.4 L546.9,194.5 L547.2,194.6 L547.6,194.7 L547.9,194.8 L548.3,194.8 L548.7,194.8 L549.1,194.8 L549.5,194.8 L549.9,194.7 L550.3,194.6 L550.7,194.5 L551.1,194.3 L551.5,194.1 L552.0,193.8 L552.4,193.5 L553.1,192.9 L553.7,192.2 L554.4,191.3 L555.2,190.5 L556.0,189.6 L557.3,188.4 L558.9,187.2 L560.5,186.0 L562.1,184.7 L563.5,183.3 L564.7,181.9 L565.8,180.5 L566.9,179.0 L567.9,177.6 L569.0,176.2 L570.1,175.0 L571.1,173.7 L572.2,172.5 L573.3,171.4 L574.4,170.2 L575.5,169.0 L576.6,167.8 L577.8,166.7 L578.9,165.6 L580.0,164.5 L581.0,163.6 L582.0,162.7 L583.0,161.9 L584.0,161.1 L585.0,160.3 L586.0,159.6 L587.0,158.9 L588.0,158.2 L589.0,157.5 L590.0,156.9 L591.0,156.3 L592.0,155.8 L593.0,155.3 L594.0,154.8 L595.0,154.3 L596.0,153.9 L597.0,153.5 L598.0,153.1 L599.0,152.7 L600.0,152.3 L601.0,151.9 L602.0,151.5 L603.0,151.2 L604.0,150.8 L605.0,150.4 L606.0,150.0 L607.0,149.7 L608.0,149.3 L609.0,148.9 L610.0,148.5 L611.2,148.0 L612.4,147.5 L613.6,147.0 L614.8,146.4 L616.0,145.8 L617.4,145.0 L618.8,144.2 L620.2,143.3 L621.6,142.4 L622.9,141.7 L623.8,141.2 L624.8,140.9 L625.6,140.5 L626.5,140.2 L627.3,139.8 L628.0,139.5 L628.7,139.2 L629.3,139.0 L630.0,138.7 L630.5,138.3 L630.9,138.0 L631.3,137.6 L631.6,137.2 L631.9,136.8 L632.2,136.3 L632.5,135.6 L632.6,134.8 L632.8,133.9 L632.9,133.0 L633.0,132.0 L633.1,130.8 L633.3,129.5 L633.4,128.2 L633.5,126.7 L633.6,125.0 L633.9,121.2 L634.1,116.6 L634.4,111.5 L634.7,105.9 L635.0,100.0 L635.4,90.0 L635.8,78.7 L636.2,66.6 L636.6,54.4 L637.0,42.5" fill="none" stroke="#ff1414" stroke-width="2.0" stroke-linejoin="round" stroke-linecap="butt"/>
<path d="M403.6,42.5 L403.8,48.0 L403.9,53.4 L404.1,58.9 L404.2,64.4 L404.4,70.0 L404.6,76.1 L404.7,82.4 L404.9,88.8 L405.0,94.7 L405.2,100.0 L405.3,103.2 L405.4,106.3 L405.6,109.1 L405.7,111.7 L405.8,114.0 L405.9,115.4 L405.9,116.6 L406.0,117.8 L406.1,118.9 L406.2,120.0 L406.3,121.0 L406.4,121.9 L406.5,122.8 L406.6,123.7 L406.8,124.5 L407.0,125.1 L407.3,125.7 L407.6,126.3 L407.9,126.8 L408.3,127.4 L408.7,128.0 L409.2,128.7 L409.6,129.3 L410.1,129.9 L410.7,130.4 L411.3,130.8 L411.9,131.2 L412.6,131.6 L413.3,131.9 L414.0,132.3 L415.1,132.8 L416.2,133.3 L417.4,133.8 L418.7,134.3 L420.0,134.8 L421.5,135.4 L423.0,135.9 L424.6,136.5 L426.3,137.1 L428.0,137.8 L430.3,138.7 L432.7,139.7 L435.2,140.7 L437.6,141.8 L440.0,142.8 L442.1,143.8 L444.1,144.7 L446.1,145.7 L448.0,146.7 L450.0,147.8 L452.1,149.0 L454.2,150.2 L456.3,151.4 L458.2,152.8 L460.1,154.2 L461.7,155.7 L463.2,157.3 L464.6,158.9 L465.9,160.7 L467.4,162.5 L469.3,164.8 L471.2,167.4 L473.2,170.0 L475.0,172.6 L476.8,175.0 L478.2,176.9 L479.4,178.8 L480.6,180.6 L481.9,182.4 L483.1,184.2 L484.4,186.0 L485.6,187.9 L486.9,189.8 L488.2,191.5 L489.4,193.0 L490.4,194.0 L491.3,195.0 L492.2,195.9 L493.2,196.7 L494.1,197.3 L494.8,197.7 L495.5,197.9 L496.2,198.2 L496.9,198.4 L497.5,198.6 L497.9,198.8 L498.3,199.0 L498.6,199.2 L498.9,199.4 L499.3,199.5 L499.7,199.5 L500.2,199.5 L500.6,199.4 L501.1,199.3 L501.5,199.2 L502.0,199.0 L502.5,198.8 L503.0,198.5 L503.5,198.2 L504.0,197.8 L504.6,197.3 L505.2,196.8 L505.8,196.3 L506.3,195.7 L506.8,195.0 L507.3,194.1 L507.6,193.0 L508.0,191.9 L508.2,190.7 L508.5,189.5 L508.8,188.2 L509.0,186.8 L509.2,185.3 L509.4,183.9 L509.6,182.5 L509.8,181.3 L509.9,180.1 L510.1,178.9 L510.2,177.6 L510.4,176.0 L510.9,171.9 L511.5,166.8 L512.1,161.2 L512.7,155.4 L513.3,150.0 L513.8,145.1 L514.2,140.4 L514.7,135.7 L515.1,130.6 L515.6,125.0 L516.4,115.0 L517.3,103.5 L518.3,91.5 L519.2,80.0 L520.0,70.0 L520.5,64.3 L521.0,59.1 L521.5,54.2 L521.9,49.4 L522.4,44.5 L523.0,49.4 L523.7,54.2 L524.3,59.1 L524.9,64.3 L525.6,70.0 L526.6,80.0 L527.8,91.5 L528.9,103.5 L530.0,115.0 L530.9,125.0 L531.4,130.7 L531.9,135.9 L532.4,140.8 L532.8,145.4 L533.2,150.0 L533.5,153.9 L533.7,157.7 L533.9,161.3 L534.1,164.8 L534.3,168.0 L534.5,170.2 L534.7,172.3 L534.8,174.3 L535.0,176.2 L535.3,178.0 L535.5,179.3 L535.8,180.6 L536.0,181.8 L536.3,182.9 L536.6,184.0 L536.8,184.8 L537.0,185.5 L537.2,186.3 L537.5,187.0 L537.8,187.8 L538.4,189.1 L539.1,190.5 L539.9,191.9 L540.8,193.2 L541.6,194.3 L542.2,194.9 L542.7,195.5 L543.3,196.0 L543.9,196.5 L544.5,196.8 L545.1,197.0 L545.7,197.2 L546.3,197.3 L546.9,197.3 L547.5,197.4 L547.9,197.4 L548.3,197.5 L548.7,197.5 L549.1,197.5 L549.5,197.4 L549.9,197.2 L550.3,197.0 L550.7,196.7 L551.2,196.4 L551.6,196.0 L552.5,195.1 L553.4,193.9 L554.3,192.6 L555.3,191.2 L556.4,189.8 L557.7,188.2 L559.2,186.5 L560.7,184.8 L562.1,183.1 L563.5,181.5 L564.7,180.1 L565.8,178.6 L566.8,177.2 L567.9,175.9 L569.0,174.5 L570.1,173.2 L571.1,172.0 L572.2,170.7 L573.3,169.5 L574.4,168.3 L575.5,167.1 L576.6,165.9 L577.7,164.7 L578.9,163.6 L580.0,162.5 L581.0,161.6 L582.0,160.8 L583.0,160.1 L584.0,159.3 L585.0,158.6 L586.0,157.9 L587.0,157.3 L588.0,156.6 L589.0,156.1 L590.0,155.5 L591.0,155.0 L592.0,154.6 L593.0,154.2 L594.0,153.8 L595.0,153.4 L596.0,153.1 L597.0,152.7 L598.0,152.4 L599.0,152.1 L600.0,151.8 L601.0,151.5 L602.0,151.1 L603.0,150.7 L604.0,150.4 L605.0,150.0 L606.0,149.6 L607.0,149.3 L608.0,149.0 L609.0,148.6 L610.0,148.2 L611.2,147.7 L612.3,147.2 L613.5,146.7 L614.8,146.1 L616.0,145.6 L617.4,145.0 L618.8,144.4 L620.2,143.8 L621.6,143.2 L622.9,142.7 L623.9,142.3 L624.8,142.0 L625.6,141.7 L626.5,141.4 L627.3,141.1 L628.0,140.9 L628.7,140.7 L629.3,140.5 L629.9,140.3 L630.5,140.0 L631.0,139.7 L631.5,139.4 L632.0,139.1 L632.4,138.7 L632.8,138.3 L633.2,137.6 L633.6,136.8 L633.8,135.9 L634.1,135.0 L634.3,134.0 L634.5,132.9 L634.6,131.9 L634.7,130.8 L634.8,129.5 L634.9,128.0 L635.0,123.9 L635.1,118.8 L635.2,112.9 L635.2,106.6 L635.3,100.0 L635.6,89.8 L635.9,78.5 L636.3,66.5 L636.6,54.3 L637.0,42.5" fill="none" stroke="#0a0aff" stroke-width="2.0" stroke-linejoin="round" stroke-linecap="butt"/>
<path d="M403.6,42.5 L403.8,48.0 L403.9,53.4 L404.1,58.9 L404.2,64.4 L404.4,70.0 L404.6,76.1 L404.7,82.4 L404.9,88.8 L405.0,94.7 L405.2,100.0 L405.3,103.2 L405.4,106.3 L405.6,109.1 L405.7,111.7 L405.8,114.0 L405.9,115.4 L405.9,116.6 L406.0,117.8 L406.1,118.9 L406.2,120.0 L406.3,121.0 L406.4,121.9 L406.5,122.8 L406.6,123.7 L406.8,124.5 L407.0,125.1 L407.3,125.7 L407.6,126.3 L407.9,126.8 L408.3,127.4 L408.7,128.0 L409.2,128.6 L409.6,129.2 L410.2,129.7 L410.7,130.2 L411.3,130.6 L411.9,131.0 L412.6,131.3 L413.3,131.7 L414.0,132.0 L415.1,132.5 L416.2,133.0 L417.4,133.5 L418.7,134.0 L420.0,134.5 L421.5,135.1 L423.0,135.6 L424.6,136.2 L426.3,136.8 L428.0,137.5 L430.3,138.4 L432.7,139.3 L435.2,140.3 L437.6,141.4 L440.0,142.4 L442.1,143.3 L444.1,144.3 L446.1,145.2 L448.0,146.2 L450.0,147.3 L452.1,148.5 L454.2,149.7 L456.3,151.0 L458.2,152.3 L460.1,153.8 L461.7,155.3 L463.2,156.8 L464.6,158.5 L465.9,160.2 L467.4,162.0 L469.3,164.3 L471.2,166.9 L473.2,169.5 L475.0,172.0 L476.8,174.5 L478.2,176.5 L479.4,178.4 L480.6,180.3 L481.8,182.2 L483.1,184.0 L484.3,185.7 L485.6,187.5 L486.9,189.2 L488.2,190.8 L489.4,192.2 L490.4,193.2 L491.3,194.1 L492.2,195.0 L493.2,195.7 L494.1,196.3 L494.8,196.6 L495.5,196.8 L496.2,197.0 L496.9,197.1 L497.5,197.3 L497.9,197.5 L498.3,197.7 L498.6,197.9 L498.9,198.1 L499.3,198.2 L499.7,198.2 L500.2,198.2 L500.6,198.2 L501.1,198.1 L501.5,198.0 L502.0,197.8 L502.5,197.6 L503.0,197.4 L503.5,197.1 L504.0,196.8 L504.6,196.4 L505.2,195.9 L505.8,195.3 L506.3,194.7 L506.8,194.0 L507.3,193.1 L507.6,192.2 L507.9,191.1 L508.2,190.1 L508.5,189.0 L508.8,187.8 L509.0,186.5 L509.2,185.1 L509.4,183.8 L509.6,182.5 L509.8,181.3 L509.9,180.1 L510.1,178.9 L510.2,177.6 L510.4,176.0 L510.9,171.9 L511.6,166.8 L512.4,161.2 L513.2,155.4 L513.8,150.0 L514.3,145.1 L514.7,140.4 L515.1,135.7 L515.5,130.6 L516.0,125.0 L516.8,115.1 L517.7,103.7 L518.7,91.8 L519.5,80.3 L520.3,70.0 L520.8,63.4 L521.2,57.4 L521.5,51.6 L521.9,45.9 L522.3,40.0 L523.0,45.9 L523.6,51.6 L524.2,57.3 L524.9,63.4 L525.6,70.0 L526.6,80.3 L527.8,91.8 L528.9,103.7 L530.0,115.1 L530.9,125.0 L531.5,130.7 L532.0,135.9 L532.5,140.8 L532.9,145.4 L533.3,150.0 L533.6,153.9 L533.8,157.7 L534.0,161.3 L534.3,164.8 L534.5,168.0 L534.7,170.2 L534.9,172.3 L535.0,174.3 L535.3,176.2 L535.5,178.0 L535.7,179.3 L536.0,180.6 L536.2,181.8 L536.5,182.9 L536.8,184.0 L537.0,184.8 L537.2,185.5 L537.4,186.3 L537.7,187.0 L538.0,187.8 L538.6,189.1 L539.3,190.5 L540.1,191.9 L541.0,193.2 L541.8,194.3 L542.3,194.9 L542.8,195.4 L543.4,195.8 L543.9,196.1 L544.5,196.4 L545.1,196.6 L545.7,196.7 L546.3,196.7 L546.9,196.8 L547.5,196.8 L547.9,196.9 L548.3,196.9 L548.7,197.0 L549.1,197.0 L549.5,197.0 L549.9,196.9 L550.3,196.7 L550.7,196.5 L551.2,196.2 L551.6,195.8 L552.5,195.0 L553.4,194.0 L554.4,192.8 L555.4,191.6 L556.4,190.3 L557.8,188.6 L559.2,186.8 L560.7,184.9 L562.1,183.1 L563.5,181.3 L564.6,179.8 L565.7,178.4 L566.8,177.0 L567.9,175.6 L569.0,174.2 L570.1,172.9 L571.1,171.7 L572.2,170.4 L573.3,169.2 L574.4,168.0 L575.5,166.8 L576.6,165.6 L577.7,164.4 L578.9,163.3 L580.0,162.2 L581.0,161.3 L582.0,160.5 L583.0,159.8 L584.0,159.0 L585.0,158.3 L586.0,157.6 L587.0,156.9 L588.0,156.3 L589.0,155.7 L590.0,155.1 L591.0,154.6 L592.0,154.1 L593.0,153.7 L594.0,153.3 L595.0,152.9 L596.0,152.5 L597.0,152.2 L598.0,151.9 L599.0,151.5 L600.0,151.2 L601.0,150.8 L602.0,150.5 L603.0,150.1 L604.0,149.8 L605.0,149.4 L606.0,149.0 L607.0,148.7 L608.0,148.4 L609.0,148.0 L610.0,147.6 L611.2,147.1 L612.3,146.6 L613.5,146.0 L614.8,145.5 L616.0,144.9 L617.4,144.3 L618.8,143.6 L620.2,142.9 L621.6,142.3 L622.9,141.7 L623.8,141.3 L624.8,141.0 L625.6,140.7 L626.5,140.5 L627.3,140.2 L628.0,140.0 L628.6,139.8 L629.3,139.5 L629.9,139.3 L630.5,139.1 L631.0,138.9 L631.5,138.8 L632.0,138.6 L632.4,138.3 L632.8,138.0 L633.2,137.4 L633.6,136.6 L633.8,135.7 L634.1,134.7 L634.3,133.8 L634.5,132.8 L634.6,131.8 L634.7,130.7 L634.8,129.5 L634.9,128.0 L635.1,123.9 L635.1,118.8 L635.2,112.9 L635.2,106.6 L635.3,100.0 L635.6,89.8 L635.9,78.5 L636.3,66.5 L636.6,54.3 L637.0,42.5" fill="none" stroke="#ff14ff" stroke-width="2.0" stroke-linejoin="round" stroke-linecap="butt"/>
<path d="M403.6,42.5 L403.8,48.0 L403.9,53.4 L404.1,58.9 L404.2,64.4 L404.4,70.0 L404.6,76.1 L404.7,82.4 L404.9,88.8 L405.0,94.7 L405.2,100.0 L405.3,103.2 L405.4,106.3 L405.6,109.1 L405.7,111.7 L405.8,114.0 L405.9,115.4 L405.9,116.6 L406.0,117.8 L406.1,118.9 L406.2,120.0 L406.3,121.0 L406.4,121.9 L406.5,122.8 L406.6,123.7 L406.8,124.5 L407.0,125.1 L407.3,125.8 L407.6,126.3 L407.9,126.9 L408.3,127.4 L408.7,127.8 L409.2,128.2 L409.7,128.6 L410.2,129.0 L410.7,129.3 L411.3,129.7 L411.9,130.0 L412.6,130.3 L413.3,130.7 L414.0,131.0 L415.1,131.5 L416.2,131.9 L417.4,132.4 L418.7,132.9 L420.0,133.4 L421.5,134.0 L423.0,134.5 L424.6,135.1 L426.3,135.7 L428.0,136.4 L430.3,137.3 L432.7,138.2 L435.2,139.1 L437.7,140.2 L440.0,141.2 L442.1,142.2 L444.1,143.3 L446.1,144.3 L448.0,145.5 L450.0,146.6 L452.1,147.8 L454.2,149.0 L456.2,150.3 L458.2,151.6 L460.1,153.0 L461.7,154.4 L463.2,156.0 L464.6,157.6 L465.9,159.2 L467.4,161.0 L469.3,163.3 L471.2,165.8 L473.2,168.4 L475.1,171.0 L476.8,173.5 L478.2,175.6 L479.4,177.7 L480.7,179.7 L481.9,181.7 L483.1,183.7 L484.4,185.7 L485.6,187.6 L486.9,189.6 L488.2,191.4 L489.4,193.1 L490.4,194.3 L491.3,195.6 L492.2,196.7 L493.2,197.6 L494.1,198.4 L494.8,198.8 L495.5,199.0 L496.2,199.2 L496.9,199.4 L497.5,199.6 L497.9,199.8 L498.3,200.1 L498.6,200.3 L498.9,200.5 L499.3,200.6 L499.7,200.7 L500.2,200.7 L500.6,200.6 L501.1,200.5 L501.5,200.4 L502.0,200.2 L502.5,200.0 L503.0,199.7 L503.5,199.3 L504.0,199.0 L504.6,198.6 L505.2,198.2 L505.8,197.7 L506.3,197.2 L506.8,196.6 L507.3,195.7 L507.6,194.6 L507.9,193.5 L508.2,192.2 L508.4,191.0 L508.7,189.5 L508.9,187.9 L509.1,186.2 L509.3,184.6 L509.5,183.0 L509.7,181.6 L509.8,180.4 L510.0,179.1 L510.1,177.7 L510.3,176.0 L510.7,171.8 L511.2,166.8 L511.8,161.2 L512.3,155.4 L512.8,150.0 L513.2,145.1 L513.7,140.4 L514.1,135.7 L514.5,130.6 L515.0,125.0 L515.8,115.2 L516.7,103.9 L517.7,92.1 L518.6,80.5 L519.5,70.0 L520.1,62.7 L520.7,55.8 L521.2,49.2 L521.8,42.7 L522.3,36.0 L523.1,42.7 L523.8,49.2 L524.6,55.8 L525.4,62.7 L526.2,70.0 L527.3,80.5 L528.5,92.1 L529.7,103.9 L530.7,115.2 L531.6,125.0 L532.0,130.7 L532.4,135.9 L532.7,140.8 L533.0,145.4 L533.3,150.0 L533.6,153.9 L533.8,157.7 L534.1,161.3 L534.3,164.8 L534.6,168.0 L534.8,170.2 L535.0,172.3 L535.2,174.3 L535.4,176.2 L535.7,178.0 L535.9,179.3 L536.2,180.6 L536.5,181.8 L536.7,182.9 L537.0,184.0 L537.2,184.8 L537.4,185.5 L537.6,186.2 L537.8,187.0 L538.1,187.8 L538.7,189.2 L539.4,190.8 L540.2,192.4 L541.0,193.9 L541.8,195.1 L542.3,195.8 L542.8,196.4 L543.4,196.9 L543.9,197.4 L544.5,197.8 L545.1,198.1 L545.7,198.4 L546.3,198.6 L546.9,198.7 L547.5,198.8 L547.9,198.8 L548.3,198.8 L548.7,198.8 L549.1,198.7 L549.5,198.6 L549.9,198.4 L550.3,198.2 L550.7,197.9 L551.2,197.6 L551.6,197.2 L552.5,196.3 L553.4,195.3 L554.4,194.1 L555.4,192.8 L556.4,191.4 L557.8,189.5 L559.2,187.4 L560.7,185.2 L562.1,183.0 L563.5,181.0 L564.6,179.4 L565.7,177.8 L566.8,176.2 L567.9,174.7 L569.0,173.2 L570.1,171.8 L571.1,170.4 L572.2,169.1 L573.3,167.8 L574.4,166.5 L575.5,165.2 L576.6,164.0 L577.7,162.8 L578.9,161.6 L580.0,160.5 L581.0,159.6 L582.0,158.8 L583.0,158.0 L584.0,157.3 L585.0,156.6 L586.0,155.9 L587.0,155.3 L588.0,154.7 L589.0,154.1 L590.0,153.6 L591.0,153.1 L592.0,152.7 L593.0,152.3 L594.0,151.9 L595.0,151.5 L596.0,151.2 L597.0,150.8 L598.0,150.5 L599.0,150.2 L600.0,149.9 L601.0,149.6 L602.0,149.2 L603.0,148.8 L604.0,148.5 L605.0,148.1 L606.0,147.7 L607.0,147.4 L608.0,147.1 L609.0,146.7 L610.0,146.3 L611.2,145.8 L612.3,145.3 L613.5,144.8 L614.8,144.3 L616.0,143.8 L617.4,143.2 L618.8,142.6 L620.2,142.0 L621.6,141.4 L622.9,140.9 L623.9,140.5 L624.8,140.2 L625.6,139.9 L626.5,139.6 L627.3,139.3 L628.0,139.1 L628.6,138.9 L629.3,138.7 L629.9,138.5 L630.5,138.2 L631.0,137.9 L631.5,137.7 L632.0,137.4 L632.4,137.0 L632.8,136.6 L633.2,136.0 L633.5,135.3 L633.8,134.6 L634.0,133.8 L634.2,133.0 L634.4,132.1 L634.5,131.3 L634.6,130.3 L634.7,129.3 L634.8,128.0 L635.0,124.0 L635.1,118.9 L635.1,113.0 L635.2,106.6 L635.3,100.0 L635.6,89.8 L635.9,78.5 L636.3,66.5 L636.6,54.3 L637.0,42.5" fill="none" stroke="#168716" stroke-width="2.0" stroke-linejoin="round" stroke-linecap="butt"/>
<line x1="553.00" y1="20.60" x2="580.50" y2="20.60" stroke="#000000" stroke-width="2"/>
<text x="583.00" y="24.50" font-size="14" text-anchor="start" >214081</text>
<line x1="553.00" y1="37.85" x2="580.50" y2="37.85" stroke="#ff1414" stroke-width="2"/>
<text x="583.00" y="41.75" font-size="14" text-anchor="start" >308641</text>
<line x1="553.00" y1="55.10" x2="580.50" y2="55.10" stroke="#0a0aff" stroke-width="2"/>
<text x="583.00" y="59.00" font-size="14" text-anchor="start" >408021</text>
<line x1="553.00" y1="72.35" x2="580.50" y2="72.35" stroke="#ff14ff" stroke-width="2"/>
<text x="583.00" y="76.25" font-size="14" text-anchor="start" >502047</text>
<line x1="553.00" y1="89.60" x2="580.50" y2="89.60" stroke="#168716" stroke-width="2"/>
<text x="583.00" y="93.50" font-size="14" text-anchor="start" >600233</text>
</svg>
</body></html>
